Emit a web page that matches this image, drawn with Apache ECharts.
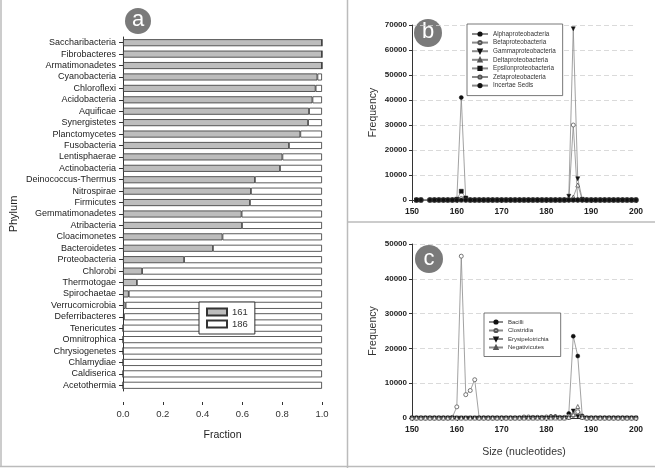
<!DOCTYPE html>
<html><head><meta charset="utf-8">
<script src="https://cdn.jsdelivr.net/npm/echarts@6/dist/echarts.min.js"></script>
<style>html,body{margin:0;padding:0;background:#fff}#c{width:655px;height:468px}</style>
</head><body><div id="c"></div>
<script>
// ---- Panel a data ----
const phyla = ['Saccharibacteria','Fibrobacteres','Armatimonadetes','Cyanobacteria','Chloroflexi','Acidobacteria','Aquificae','Synergistetes','Planctomycetes','Fusobacteria','Lentisphaerae','Actinobacteria','Deinococcus-Thermus','Nitrospirae','Firmicutes','Gemmatimonadetes','Atribacteria','Cloacimonetes','Bacteroidetes','Proteobacteria','Chlorobi','Thermotogae','Spirochaetae','Verrucomicrobia','Deferribacteres','Tenericutes','Omnitrophica','Chrysiogenetes','Chlamydiae','Caldiserica','Acetothermia'];
const frac161 = [1,1,1,0.977,0.968,0.952,0.935,0.93,0.891,0.834,0.801,0.789,0.663,0.643,0.638,0.596,0.598,0.5,0.452,0.307,0.096,0.07,0.029,0.013,0.005,0,0,0,0,0,0];
const frac186 = [0,0,0,0.023,0.032,0.048,0.065,0.07,0.109,0.166,0.199,0.211,0.337,0.357,0.362,0.404,0.402,0.5,0.548,0.693,0.904,0.93,0.971,0.987,0.995,1,1,1,1,1,1];
const fractionTicks = [0, 0.2, 0.4, 0.6, 0.8, 1.0];

// ---- Panel b data ----
const sizeB = [151,152,154,155,156,157,158,159,160,161,162,163,164,165,166,167,168,169,170,171,172,173,174,175,176,177,178,179,180,181,182,183,184,185,186,187,188,189,190,191,192,193,194,195,196,197,198,199,200];
const alphaP = [0,0,0,0,0,0,0,0,0,41000, 0,0,0,0,0,0,0,0,0,0, 0,0,0,0,0,0,0,0,0,0, 0,0,0,0,0,0,0,0,0,0, 0,0,0,0,0,0,0,0,0];
const betaP  = [0,0,0,0,0,0,0,0,0,0, 0,0,0,0,0,0,0,0,0,0, 0,0,0,0,0,0,0,0,0,0, 0,0,0,0,30000,0,0,0,0,0, 0,0,0,0,0,0,0,0,0];
const gammaP = [0,0,0,0,0,0,0,0,0,0, 0,0,0,0,0,0,0,0,0,0, 0,0,0,0,0,0,0,0,0,0, 0,0,0,1500,68500,8500,300,0,0,0, 0,0,0,0,0,0,0,0,0];
const deltaP = [0,0,0,0,0,0,0,0,0,0, 0,0,0,0,0,0,0,0,0,0, 0,0,0,0,0,0,0,0,0,0, 0,0,0,300,1200,6000,200,0,0,0, 0,0,0,0,0,0,0,0,0];
const epsilonP = [0,0,0,0,0,0,0,0,300,3500, 800,0,0,0,0,0,0,0,0,0, 0,0,0,0,0,0,0,0,0,0, 0,0,0,0,0,0,0,0,0,0, 0,0,0,0,0,0,0,0,0];
const zetaP  = [0,0,0,0,0,0,0,0,0,600, 0,0,0,0,0,0,0,0,0,0, 0,0,0,0,0,0,0,0,0,0, 0,0,0,0,0,0,0,0,0,0, 0,0,0,0,0,0,0,0,0];
const incertae = [0,0,0,0,0,0,0,0,0,0, 0,0,0,0,0,0,0,0,0,0, 0,0,0,0,0,0,0,0,0,0, 0,0,0,0,0,0,0,0,0,0, 0,0,0,0,0,0,0,0,0];
const freqTicksB = [0,10000,20000,30000,40000,50000,60000,70000];

// ---- Panel c data ----
const sizeC = [150,151,152,153,154,155,156,157,158,159,160,161,162,163,164,165,166,167,168,169,170,171,172,173,174,175,176,177,178,179,180,181,182,183,184,185,186,187,188,189,190,191,192,193,194,195,196,197,198,199,200];
const bacilli = [0,0,0,0,0,0,0,0,0,0, 0,0,0,0,0,0,0,0,0,0, 0,0,0,0,0,0,0,0,0,0, 0,400,400,0,0,1300,23500,17800,600,0, 0,0,0,0,0,0,0,0,0,0, 0];
const clostridia = [0,0,0,0,0,0,0,0,0,200, 3200,46500,6700,7900,11000,0,0,0,0,0, 0,0,0,0,0,300,300,200,200,200, 300,300,200,200,200,500,700,1800,300,0, 0,0,0,0,0,0,0,0,0,0, 0];
const erysipelotrichia = [0,0,0,0,0,0,0,0,0,0, 0,0,0,0,0,0,0,0,0,0, 0,0,0,0,0,0,0,0,0,0, 0,0,0,0,0,0,2000,400,0,0, 0,0,0,0,0,0,0,0,0,0, 0];
const negativicutes = [0,0,0,0,0,0,0,0,0,0, 0,0,0,0,0,0,0,0,0,0, 0,0,0,0,0,0,0,0,0,0, 0,0,0,0,0,200,1000,3300,200,0, 0,0,0,0,0,0,0,0,0,0, 0];
const freqTicksC = [0,10000,20000,30000,40000,50000];

const FONT = 'Liberation Sans, Arial, sans-serif';
const pair = (xs, ys) => xs.map((x, i) => [x, ys[i]]);
const LINE = '#8a8a8a';

function lineSeries(name, xs, ys, gi, symbol, filled, rot) {
  return {
    name, type: 'line', xAxisIndex: gi, yAxisIndex: gi,
    data: pair(xs, ys), symbol, symbolSize: 4, symbolRotate: rot || 0,
    showAllSymbol: true,
    lineStyle: { color: LINE, width: 0.8 },
    itemStyle: filled ? { color: '#111', borderColor: '#111', borderWidth: 0.5 }
                      : { color: '#fff', borderColor: '#555', borderWidth: 0.8 },
    emphasis: { disabled: true }, animation: false
  };
}

const chart = echarts.init(document.getElementById('c'), null, { renderer: 'canvas' });
const freqAxis = (gi, ticks) => ({
  type: 'value', gridIndex: gi, min: 0, max: ticks[ticks.length - 1], interval: 10000,
  name: 'Frequency', nameLocation: 'middle', nameGap: 33,
  nameTextStyle: { fontFamily: FONT, fontSize: 10.5, color: '#333' },
  axisLine: { show: true, lineStyle: { color: '#333', width: 1 } },
  axisTick: { show: true, length: 3, lineStyle: { color: '#333' } },
  axisLabel: { fontFamily: FONT, fontSize: 8, fontWeight: 'bold', color: '#222', margin: 5,
               formatter: v => String(v) },
  splitLine: { show: true, lineStyle: { color: '#d0d0d0', type: [5, 3], width: 0.8 } }
});
const sizeAxis = (gi, withName) => ({
  type: 'value', gridIndex: gi, min: 150, max: 200, interval: 10,
  name: withName ? 'Size (nucleotides)' : '', nameLocation: 'middle', nameGap: 29,
  nameTextStyle: { fontFamily: FONT, fontSize: 10.5, color: '#333' },
  axisLine: { show: true, onZero: false, lineStyle: { color: '#333', width: 1 } },
  axisTick: { show: true, length: 3, lineStyle: { color: '#333' } },
  axisLabel: { fontFamily: FONT, fontSize: 8.5, fontWeight: 'bold', color: '#222', margin: 7,
               formatter: v => String(v) },
  splitLine: { show: false }
});

const legendText = { fontFamily: FONT, color: '#333' };

chart.setOption({
  animation: false,
  grid: [
    { left: 123, top: 37, width: 199, height: 354 },
    { left: 412, top: 25, width: 224, height: 175 },
    { left: 412, top: 244, width: 224, height: 174 }
  ],
  xAxis: [
    { type: 'value', gridIndex: 0, min: 0, max: 1, interval: 0.2, offset: 11,
      name: 'Fraction', nameLocation: 'middle', nameGap: 28,
      nameTextStyle: { fontFamily: FONT, fontSize: 10.5, color: '#222' },
      axisLine: { show: false },
      axisTick: { show: true, length: 3, lineStyle: { color: '#333' } },
      axisLabel: { fontFamily: FONT, fontSize: 9.5, color: '#333', margin: 7,
                   formatter: v => fractionTicks.includes(+v.toFixed(1)) ? v.toFixed(1) : '' },
      splitLine: { show: false } },
    sizeAxis(1, false),
    sizeAxis(2, true)
  ],
  yAxis: [
    { type: 'category', gridIndex: 0, data: phyla, inverse: true,
      name: 'Phylum', nameLocation: 'middle', nameGap: 104,
      nameTextStyle: { fontFamily: FONT, fontSize: 11, color: '#222' },
      axisLine: { show: true, lineStyle: { color: '#333', width: 1 } },
      axisTick: { show: true, alignWithLabel: true, length: 4, lineStyle: { color: '#333' } },
      axisLabel: { fontFamily: FONT, fontSize: 9, color: '#222', margin: 7, interval: 0 } },
    freqAxis(1, freqTicksB),
    freqAxis(2, freqTicksC)
  ],
  legend: [
    { data: [{ name: '161', icon: 'rect' }, { name: '186', icon: 'rect' }], orient: 'vertical', left: 199, top: 302,
      itemWidth: 20, itemHeight: 7, itemGap: 2, padding: [5, 7, 5, 7],
      borderColor: '#333', borderWidth: 1, backgroundColor: '#fff',
      textStyle: Object.assign({ fontSize: 9.5, lineHeight: 10 }, legendText) },
    { data: ['Alphaproteobacteria','Betaproteobacteria','Gammaproteobacteria','Deltaproteobacteria','Epsilonproteobacteria','Zetaproteobacteria','Incertae Sedis'],
      orient: 'vertical', left: 467, top: 24, itemWidth: 16, itemHeight: 4, itemGap: 2.6,
      padding: [7, 7, 7, 4], borderColor: '#555', borderWidth: 0.8, backgroundColor: '#fff',
      textStyle: Object.assign({ fontSize: 6.3, lineHeight: 6 }, legendText) },
    { data: ['Bacilli','Clostridia','Erysipelotrichia','Negativicutes'],
      orient: 'vertical', left: 484, top: 313, itemWidth: 14, itemHeight: 4, itemGap: 2.5,
      padding: [6, 12, 6, 4], borderColor: '#555', borderWidth: 0.8, backgroundColor: '#fff',
      textStyle: Object.assign({ fontSize: 6, lineHeight: 6 }, legendText) }
  ],
  series: [
    { name: '161', type: 'bar', stack: 'f', xAxisIndex: 0, yAxisIndex: 0, data: frac161,
      barWidth: 7, itemStyle: { color: '#bdbdbd', borderColor: '#333', borderWidth: 0.8 } },
    { name: '186', type: 'bar', stack: 'f', xAxisIndex: 0, yAxisIndex: 0, data: frac186,
      barWidth: 7, itemStyle: { color: '#ffffff', borderColor: '#333', borderWidth: 0.8 } },
    lineSeries('Alphaproteobacteria', sizeB, alphaP, 1, 'circle', true),
    lineSeries('Betaproteobacteria', sizeB, betaP, 1, 'circle', false),
    lineSeries('Gammaproteobacteria', sizeB, gammaP, 1, 'triangle', true, 180),
    lineSeries('Deltaproteobacteria', sizeB, deltaP, 1, 'triangle', false),
    lineSeries('Epsilonproteobacteria', sizeB, epsilonP, 1, 'rect', true),
    lineSeries('Zetaproteobacteria', sizeB, zetaP, 1, 'circle', false),
    lineSeries('Incertae Sedis', sizeB, incertae, 1, 'circle', true),
    lineSeries('Bacilli', sizeC, bacilli, 2, 'circle', true),
    lineSeries('Clostridia', sizeC, clostridia, 2, 'circle', false),
    lineSeries('Erysipelotrichia', sizeC, erysipelotrichia, 2, 'triangle', true, 180),
    lineSeries('Negativicutes', sizeC, negativicutes, 2, 'triangle', false)
  ],
  graphic: [
    { type: 'line', shape: { x1: 1, y1: 0, x2: 1, y2: 467 }, style: { stroke: '#bbb', lineWidth: 1.5 } },
    { type: 'line', shape: { x1: 0, y1: 466.5, x2: 655, y2: 466.5 }, style: { stroke: '#bbb', lineWidth: 1.5 } },
    { type: 'line', shape: { x1: 347.5, y1: 0, x2: 347.5, y2: 468 }, style: { stroke: '#bbb', lineWidth: 1.5 } },
    { type: 'line', shape: { x1: 347, y1: 222, x2: 655, y2: 222 }, style: { stroke: '#bbb', lineWidth: 1.5 } },
    { type: 'circle', shape: { cx: 138, cy: 21, r: 13 }, style: { fill: '#7a7a7a' } },
    { type: 'text', x: 138, y: 20, style: { text: 'a', fill: '#fff', font: '22px ' + FONT, textAlign: 'center', textVerticalAlign: 'middle' } },
    { type: 'circle', shape: { cx: 428, cy: 33, r: 14 }, style: { fill: '#7a7a7a' } },
    { type: 'text', x: 428, y: 32, style: { text: 'b', fill: '#fff', font: '22px ' + FONT, textAlign: 'center', textVerticalAlign: 'middle' } },
    { type: 'circle', shape: { cx: 429, cy: 259, r: 14 }, style: { fill: '#7a7a7a' } },
    { type: 'text', x: 429, y: 259, style: { text: 'c', fill: '#fff', font: '22px ' + FONT, textAlign: 'center', textVerticalAlign: 'middle' } }
  ]
});
</script></body></html>
